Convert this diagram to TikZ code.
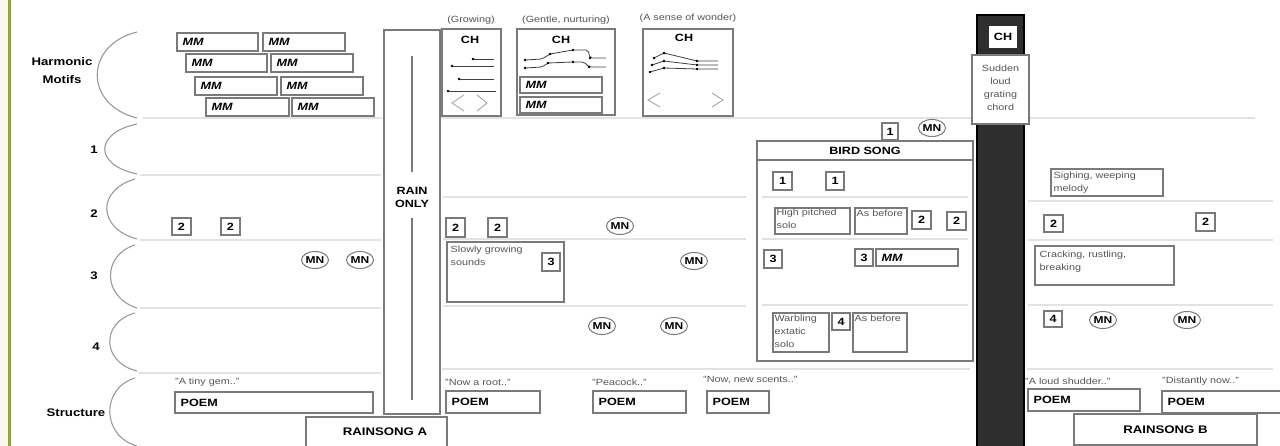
\documentclass[tikz,border=0pt]{standalone}
\usepackage{fontspec}
\setmainfont{Liberation Sans}[FakeStretch=1.2]
\usetikzlibrary{shapes.geometric}
\definecolor{bordergray}{HTML}{7A7A7A}
\definecolor{textgray}{HTML}{555555}
\definecolor{rulegray}{HTML}{E2E2E2}
\definecolor{bracegray}{HTML}{9A9A9A}
\definecolor{leftgreen}{HTML}{8DA545}
\definecolor{cream}{HTML}{FAF7EC}
\definecolor{darkcol}{HTML}{2E2E2E}
\newcommand\lblf{\bfseries\fontsize{10.5}{12}\selectfont}
\newcommand\grf{\fontsize{9}{13}\selectfont}
\newcommand\mybox[7]{\node[#6, minimum width={(#4-#2)*1pt}, minimum height={(#5-#3)*1pt}] (#1) at ({(#2+#4)/2},{(#3+#5)/2}) {#7};}
\newcommand\mmbox[5]{\mybox{#1}{#2}{#3}{#4}{#5}{box}{}\node[mmtext] (#1t) at ([xshift=6pt]#1.west) {MM};}
\newcommand\poembox[5]{\mybox{#1}{#2}{#3}{#4}{#5}{box}{}\node[poemtext] (#1t) at ([xshift=6pt]#1.west) {POEM};}
\newcommand\numbox[6]{\mybox{#1}{#2}{#3}{#4}{#5}{num}{#6}}
\begin{document}
\begin{tikzpicture}[x=1pt,y=-1pt,
  box/.style={draw=bordergray, line width=1.1pt, fill=white, inner sep=0pt},
  num/.style={box, font=\lblf},
  mmtext/.style={anchor=west, inner sep=0pt, font=\bfseries\itshape\fontsize{10.5}{12}\selectfont},
  poemtext/.style={anchor=west, inner sep=0pt, font=\lblf},
  gtext/.style={inner sep=0pt, text=textgray, font=\grf, align=left, anchor=north west},
  note/.style={inner sep=0pt, text=textgray, font=\grf},
  lbl/.style={inner sep=0pt, font=\bfseries\fontsize{11}{18}\selectfont, align=center},
  mn/.style={ellipse, draw=bordergray, line width=1pt, fill=white, minimum width=27pt, minimum height=17pt, inner sep=0pt, font=\bfseries\fontsize{10}{12}\selectfont},
  rule/.style={draw=rulegray, line width=1.8pt},
  brace/.style={draw=bracegray, line width=1.1pt},
  wave/.style={draw=black!75, line width=0.8pt, rounded corners=2pt},
  chev/.style={draw=black!35, line width=0.9pt},
  blkst/.style={draw=black, line width=1.5pt, fill=darkcol, inner sep=0pt}]
\useasboundingbox (0,0) rectangle (1280,446);
\clip (0,0) rectangle (1280,446);
\fill[white] (0,0) rectangle (1280,446);
\fill[cream] (0,0) rectangle (8,446);
\draw[leftgreen, line width=2.5pt] (9.5,0) -- (9.5,446);

% row rules
\foreach \y/\a/\b in {118/143/382, 175/140/381, 240/140/381, 308/140/381, 373/138/381,
  118/440/975, 197/443/746, 239/443/746, 306/443/746, 369/442/970,
  118/1029/1255, 201/1028/1273, 240/1028/1273, 305/1028/1273, 369/1027/1273}
  \draw[rule] (\a,\y) -- (\b,\y);

% braces
\draw[brace] (137,32) .. controls (84,45) and (84,105) .. (137,118);
\draw[brace] (137,124) .. controls (94,133) and (94,165) .. (137,174);
\draw[brace] (135,179) .. controls (97,190) and (97,228) .. (137,239);
\draw[brace] (135,245) .. controls (102,255) and (102,297) .. (137,308);
\draw[brace] (135,313) .. controls (101,322) and (101,362) .. (137,371);
\draw[brace] (135,378) .. controls (101,388) and (101,436) .. (137,446);

% row labels
\node[lbl] (lhm) at (62,71) {Harmonic\\Motifs};
\node[lbl] (l1) at (94,150) {1};
\node[lbl] (l2) at (94,214) {2};
\node[lbl] (l3) at (94,276) {3};
\node[lbl] (l4) at (96,347) {4};
\node[lbl] (lst) at (76,413) {Structure};

% harmonic motif boxes
\mmbox{mma}{177}{33}{258}{51}
\mmbox{mmb}{263}{33}{345}{51}
\mmbox{mmc}{186}{54}{267}{72}
\mmbox{mmd}{271}{54}{353}{72}
\mmbox{mme}{195}{77}{277}{95}
\mmbox{mmf}{281}{77}{363}{95}
\mmbox{mmg}{206}{98}{289}{116}
\mmbox{mmh}{292}{98}{374}{116}

% left section items
\numbox{la}{172}{218}{191}{235}{2}
\numbox{lb}{221}{218}{240}{235}{2}
\node[mn] (mnl1) at (315,260) {MN};
\node[mn] (mnl2) at (360,260) {MN};

% rain column
\mybox{rain}{384}{30}{440}{414}{box}{}
\node[lbl, font=\bfseries\fontsize{10.5}{13}\selectfont] (raint) at (412,197) {RAIN\\ONLY};
\draw[draw=bordergray, line width=1.2pt] (412,56) -- (412,172) (412,218) -- (412,400);
\mybox{rsa}{306}{417}{447}{452}{box}{}
\node[lbl] (rsat) at (385,432) {RAINSONG A};

% Growing
\node[note] (growl) at (471,20) {(Growing)};
\mybox{grow}{442}{29}{501}{116}{box}{}
\node[lbl, font=\lblf] (growch) at (470,40) {CH};
\draw[draw=black!75, line width=0.8pt] (473,59) -- (494,59) (452,66) -- (494,66) (459,79) -- (494,79) (448,91) -- (496,91);
\foreach \p in {(473,59),(452,66),(459,79),(448,91)} \fill \p circle[radius=1.3pt];
\draw[chev] (464,95) -- (452,103) -- (464,111) (477,95) -- (487,103) -- (477,111);

% Gentle
\node[note] (gentl) at (566,20) {(Gentle, nurturing)};
\mybox{gent}{517}{29}{615}{115}{box}{}
\node[lbl, font=\lblf] (gentch) at (561,40) {CH};
\draw[wave] (525,60) -- (542,59) -- (550,54) -- (573,50) -- (588,50) -- (590,58) -- (606,58);
\draw[wave] (525,68) -- (542,67) -- (548,63) -- (573,62) -- (584,62) -- (589,67) -- (606,67);
\foreach \p in {(525,60),(550,54),(573,50),(590,58),(525,68),(548,63),(573,62),(589,67)} \fill \p circle[radius=1.3pt];
\mmbox{mmi}{520}{77}{602}{93}
\mmbox{mmj}{520}{97}{602}{113}

% Wonder
\node[note] (wondl) at (688,18) {(A sense of wonder)};
\mybox{wond}{643}{29}{733}{116}{box}{}
\node[lbl, font=\lblf] (wondch) at (684,38) {CH};
\draw[wave] (654,58) -- (664,53) -- (697,61) -- (718,61);
\draw[wave] (652,65) -- (664,61) -- (697,65) -- (718,65);
\draw[wave] (650,72) -- (664,68) -- (697,69) -- (718,69);
\foreach \p in {(654,58),(664,53),(697,61),(652,65),(664,61),(697,65),(650,72),(664,68),(697,69)} \fill \p circle[radius=1.3pt];
\draw[chev] (660,93) -- (648,100) -- (660,107) (712,93) -- (723,100) -- (712,107);

% middle section
\numbox{ma}{446}{218}{465}{237}{2}
\numbox{mb}{488}{218}{507}{237}{2}
\node[mn] (mnm1) at (620,226) {MN};
\mybox{slow}{447}{242}{564}{302}{box}{}
\node[gtext] (slowt) at ([xshift=4pt,yshift=-4pt]slow.north west) {Slowly growing\\sounds};
\numbox{mc}{542}{253}{560}{271}{3}
\node[mn] (mnm2) at (694,261) {MN};
\node[mn] (mnm3) at (602,326) {MN};
\node[mn] (mnm4) at (674,326) {MN};

% bird song
\numbox{ba}{882}{123}{898}{140}{1}
\node[mn] (mnb) at (932,128) {MN};
\mybox{bird}{757}{141}{973}{361}{box}{}
\mybox{birdh}{757}{141}{973}{160}{box, font=\lblf}{BIRD SONG}
\foreach \y in {197,239,305} \draw[rule] (762,\y) -- (968,\y);
\numbox{bb}{773}{172}{792}{190}{1}
\numbox{bc}{826}{172}{844}{190}{1}
\mybox{hp}{775}{208}{850}{234}{box}{}
\node[gtext] (hpt) at ([xshift=2pt,yshift=-1.5pt]hp.north west) {High pitched\\solo};
\mybox{ab1}{855}{208}{907}{234}{box}{}
\node[gtext] (ab1t) at ([xshift=2pt,yshift=-2pt]ab1.north west) {As before};
\numbox{bd}{912}{211}{931}{229}{2}
\numbox{be}{947}{212}{966}{230}{2}
\numbox{bf}{764}{250}{782}{268}{3}
\numbox{bg}{855}{249}{873}{266}{3}
\mmbox{mmk}{876}{249}{958}{266}
\mybox{warb}{773}{313}{829}{352}{box}{}
\node[gtext] (warbt) at ([xshift=2pt,yshift=-2.5pt]warb.north west) {Warbling\\extatic\\solo};
\numbox{bh}{832}{313}{850}{330}{4}
\mybox{ab2}{853}{313}{907}{352}{box}{}
\node[gtext] (ab2t) at ([xshift=2pt,yshift=-2.5pt]ab2.north west) {As before};

% black column
\mybox{blk}{977}{15}{1024}{452}{blkst}{}
\mybox{blkch}{990}{27}{1016}{47}{box, draw=white, font=\lblf}{CH}
\mybox{sud}{972}{55}{1029}{124}{box}{}
\node[note, align=center] (sudt) at (1000.5,88) {Sudden\\loud\\grating\\chord};

% right section
\mybox{sigh}{1051}{169}{1163}{196}{box}{}
\node[gtext] (sight) at ([xshift=3pt,yshift=-3pt]sigh.north west) {Sighing, weeping\\melody};
\numbox{ra}{1044}{215}{1063}{232}{2}
\numbox{rb}{1196}{213}{1215}{231}{2}
\mybox{crack}{1035}{246}{1174}{285}{box}{}
\node[gtext] (crackt) at ([xshift=5pt,yshift=-5pt]crack.north west) {Cracking, rustling,\\breaking};
\numbox{rc}{1044}{311}{1062}{327}{4}
\node[mn] (mnr1) at (1103,320) {MN};
\node[mn] (mnr2) at (1187,320) {MN};

% structure row
\node[note, anchor=west] (q1) at (175,382) {"A tiny gem.."};
\poembox{p1}{175}{392}{373}{413}
\node[note, anchor=west] (q2) at (445,382) {"Now a root.."};
\poembox{p2}{446}{391}{540}{413}
\node[note, anchor=west] (q3) at (592,382) {"Peacock.."};
\poembox{p3}{593}{391}{686}{413}
\node[note, anchor=west] (q4) at (703,380) {"Now, new scents.."};
\poembox{p4}{707}{391}{769}{413}
\node[note, anchor=west] (q5) at (1025,381) {"A loud shudder.."};
\poembox{p5}{1028}{389}{1140}{411}
\node[note, anchor=west] (q6) at (1162,381) {"Distantly now.."};
\poembox{p6}{1162}{391}{1292}{413}
\mybox{rsb}{1074}{414}{1257}{445}{box, font=\bfseries\fontsize{11}{12}\selectfont}{RAINSONG B}
\end{tikzpicture}
\end{document}
